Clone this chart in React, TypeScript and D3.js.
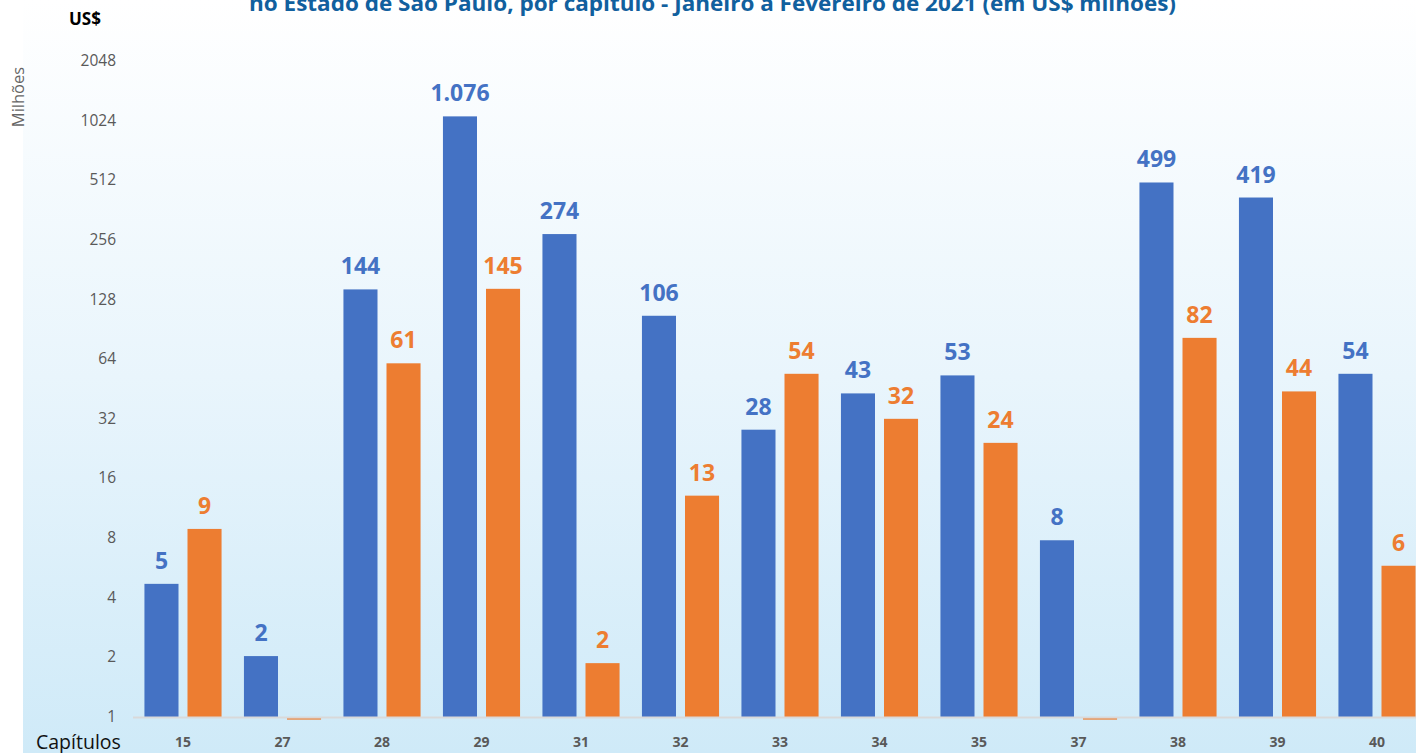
import React from "react";
import * as d3 from "d3";

const categories = ["15", "27", "28", "29", "31", "32", "33", "34", "35", "37", "38", "39", "40"];
const seriesA = [4.7, 2.03, 144, 1076, 274, 106, 28.2, 43, 53, 7.8, 499, 419, 54];
const seriesB = [8.9, 0.97, 61, 145, 1.87, 13.1, 54, 32, 24.2, 0.97, 82, 44, 5.8];
const yTicks = [1, 2, 4, 8, 16, 32, 64, 128, 256, 512, 1024, 2048];
const seriesNames = ["a", "b"];
const colors = ["#4472C4", "#ED7D31"];

const titleText = "no Estado de São Paulo, por capítulo - Janeiro a Fevereiro de 2021 (em US$ milhões)";

const W = 1416;
const H = 753;
const FONT = "'Open Sans', 'Noto Sans', sans-serif";

const locale = d3.formatLocale({ decimal: ",", thousands: ".", grouping: [3], currency: ["", ""] });
const fmt = locale.format(",.0f");

export default function App() {
  const x = d3.scaleBand<string>().domain(categories).range([133.25, 1426.75]).padding(0);
  const xi = d3
    .scaleBand<string>()
    .domain(seriesNames)
    .range([0, x.bandwidth()])
    .paddingInner(0.209)
    .paddingOuter(0.26);
  const y = d3.scaleLog().base(2).domain([1, 2048]).range([717, 61]);
  const y0 = y(1);

  const series = [seriesA, seriesB];

  return (
    <svg
      width={W}
      height={H}
      style={{ position: "absolute", left: 0, top: 0, display: "block" }}
      xmlns="http://www.w3.org/2000/svg"
    >
      <defs>
        <linearGradient id="bg" x1="0" y1="0" x2="0" y2="1">
          <stop offset="0" stopColor="#ffffff" />
          <stop offset="0.5" stopColor="#e9f5fc" />
          <stop offset="1" stopColor="#cfeaf8" />
        </linearGradient>
      </defs>
      <rect x={0} y={0} width={W} height={H} fill="#ffffff" />
      <rect x={23} y={0} width={W - 23} height={H} fill="url(#bg)" />

      {/* title (its first line lies above the picture, as in the reference) */}
      <text
        x={712.5}
        y={11}
        textAnchor="middle"
        fontFamily={FONT}
        fontWeight="bold"
        fontSize={21}
        fill="#11609e"
        textLength={927}
        lengthAdjust="spacingAndGlyphs"
      >
        {titleText}
      </text>

      <text x={69} y={25} fontFamily={FONT} fontWeight="bold" fontSize={17} fill="#000">
        US$
      </text>

      <text
        transform="translate(24,97) rotate(-90)"
        textAnchor="middle"
        fontFamily={FONT}
        fontSize={16.5}
        fill="#666666"
      >
        Milhões
      </text>

      {/* y tick labels */}
      {yTicks.map((t) => (
        <text
          key={t}
          x={116}
          y={y(t) + 5}
          textAnchor="end"
          fontFamily={FONT}
          fontSize={15.5}
          fill="#595959"
        >
          {t}
        </text>
      ))}

      {/* bars */}
      {categories.map((c, i) => (
        <g key={c}>
          {series.map((s, j) => {
            const v = s[i];
            const yv = y(v);
            const bx = (x(c) as number) + (xi(seriesNames[j]) as number);
            const top = Math.min(yv, y0);
            const h = Math.abs(y0 - yv);
            return (
              <g key={j}>
                <rect x={bx} y={top} width={xi.bandwidth()} height={h} fill={colors[j]} />
                {v >= 1 && (
                  <text
                    x={bx + xi.bandwidth() / 2}
                    y={yv - 15}
                    textAnchor="middle"
                    fontFamily={FONT}
                    fontWeight="bold"
                    fontSize={23}
                    fill={colors[j]}
                  >
                    {fmt(v)}
                  </text>
                )}
              </g>
            );
          })}
        </g>
      ))}

      {/* axis line */}
      <line x1={133} x2={W} y1={717.5} y2={717.5} stroke="#d9d9d9" strokeWidth={2} />

      {/* category labels */}
      {categories.map((c) => (
        <text
          key={c}
          x={(x(c) as number) + x.bandwidth() / 2}
          y={747}
          textAnchor="middle"
          fontFamily={FONT}
          fontWeight="bold"
          fontSize={14}
          fill="#595959"
        >
          {c}
        </text>
      ))}

      <text x={36} y={749} fontFamily={FONT} fontSize={19.5} fill="#111111">
        Capítulos
      </text>
    </svg>
  );
}
